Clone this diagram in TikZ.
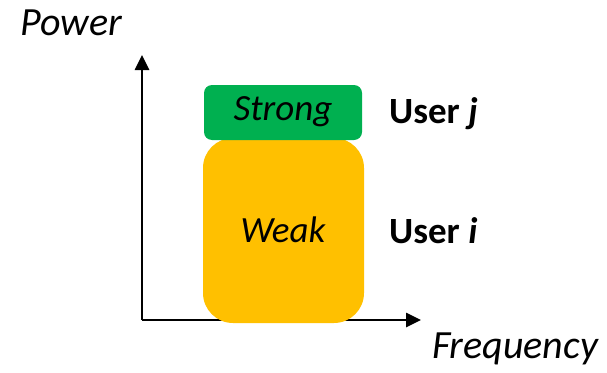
\documentclass[tikz,border=0pt]{standalone}
\usepackage{fontspec}
\setmainfont{Carlito}
\usetikzlibrary{arrows.meta}
\definecolor{strongc}{RGB}{0,176,80}
\definecolor{weakc}{RGB}{255,192,0}
\begin{document}
\begin{tikzpicture}[x=1pt,y=-1pt,
  axis/.style={line width=2.6pt,-{Triangle[length=15pt,width=14pt]}},
  lbl/.style={font=\fontsize{40}{44}\selectfont\itshape,inner sep=0pt},
  usr/.style={font=\fontsize{37}{40}\selectfont\bfseries,inner sep=0pt,anchor=west},
  blk/.style={font=\fontsize{37}{40}\selectfont\itshape,inner sep=0pt}]
\useasboundingbox (0,0) rectangle (607,372);
\coordinate (o) at (142,320);
\coordinate (ytop) at (142,55);
\coordinate (xend) at (421,320);
\draw[axis] (o) -- (ytop);
\draw[axis] (o) -- (xend);
\fill[weakc,rounded corners=30pt] (203,138) rectangle (364,323);
\fill[strongc,rounded corners=8pt] (204,85) rectangle (362,140);
\node[blk] (strong) at (283,112) {Strong};
\node[blk] (weak) at (283,230) {Weak};
\node[usr] (uj) at (389,114) {User \textit{j}};
\node[usr] (ui) at (389,231) {User \textit{i}};
\node[lbl] (pw) at (71,23) {Power};
\node[lbl] (fq) at (515,349) {Frequency};
\end{tikzpicture}
\end{document}
